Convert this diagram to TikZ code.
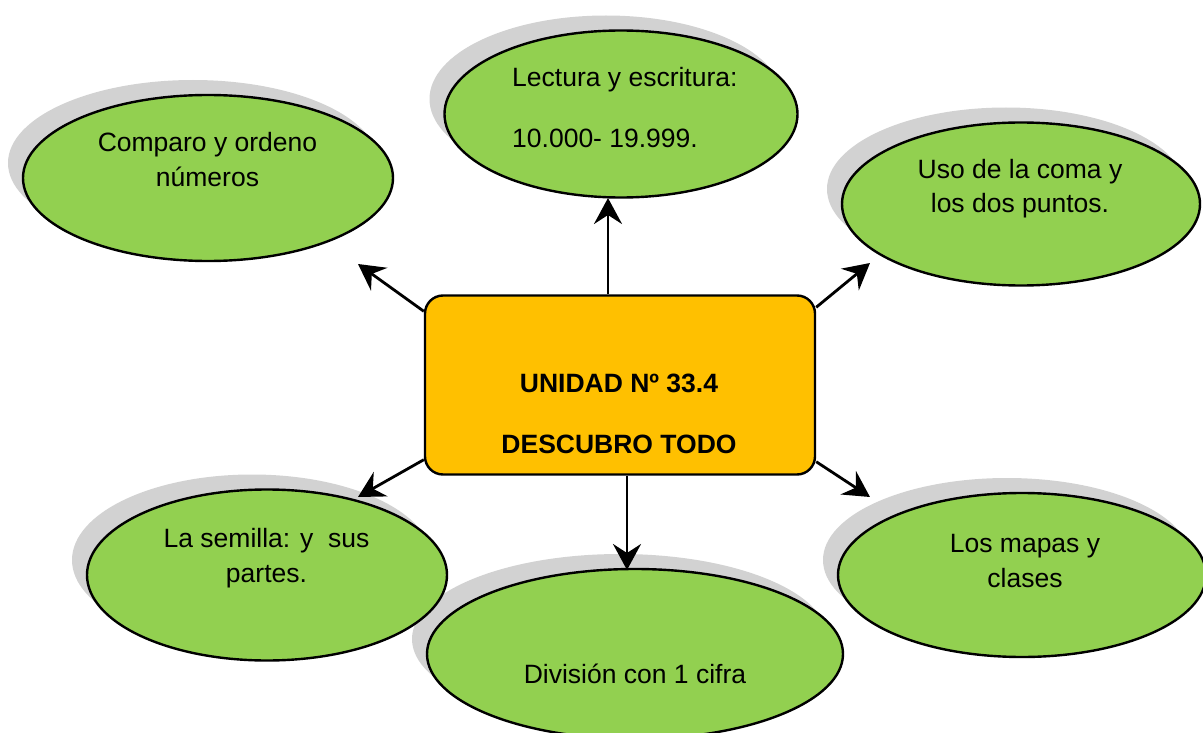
\documentclass[tikz,border=0pt]{standalone}
\usepackage{fontspec}
\setmainfont{Liberation Sans}
\usetikzlibrary{shapes.geometric,shadows,arrows.meta}
\definecolor{verde}{HTML}{92D050}
\definecolor{naranja}{HTML}{FFC000}
\begin{document}
\begin{tikzpicture}[x=1pt,y=-1pt]
            \tikzset{
                burbuja/.style={ellipse,draw,line width=2.4pt,fill=verde,inner sep=0pt,
                    drop shadow={shadow xshift=-15pt,shadow yshift=15pt,fill=gray!35,opacity=1}},
                texto/.style={anchor=base,align=center,inner sep=0pt,font=\fontsize{26.5}{35}\selectfont},
                flecha/.style={line width=2.8pt,-{Stealth[length=26pt,width=28pt,inset=9pt]}},}
            \useasboundingbox (0,0) rectangle (1203,733);
            \node[burbuja,minimum width=370pt,minimum height=166pt] (comparo) at (208,178) {};
            \node[burbuja,minimum width=353pt,minimum height=167pt] (lectura) at (621,114) {};
            \node[burbuja,minimum width=358pt,minimum height=163pt] (uso) at (1021,204) {};
            \node[burbuja,minimum width=416pt,minimum height=170pt] (division) at (635,654) {};
            \node[burbuja,minimum width=360pt,minimum height=171pt] (semilla) at (267,575) {};
            \node[burbuja,minimum width=368pt,minimum height=164pt] (mapas) at (1022,575) {};
            \node[draw,line width=2.4pt,fill=naranja,rounded corners=18pt,
                minimum width=390pt,minimum height=179pt] (caja) at (620,385) {};
            % textos (anclados en la linea base de la ultima linea)
            \node[texto] (tComparo) at (207.5,186) {Comparo y ordeno\\números};
            \node[texto,align=left,anchor=base west] (tLectura) at (512,148) {Lectura y escritura:\\[26pt]10.000- 19.999.};
            \node[texto] (tUso) at (1020,213) {Uso de la coma y\\los dos puntos.};
            \node[texto] (tSemilla) at (266.5,582) {La semilla: y\ \ sus\\partes.};
            \node[texto] (tDivision) at (635,683) {División con 1 cifra};
            \node[texto] (tMapas) at (1025,587) {Los mapas y\\clases};
            \node[texto,font=\fontsize{26.5}{35}\selectfont\bfseries] (tCaja) at (619,453) {UNIDAD Nº 33.4\\[26pt]DESCUBRO TODO};
            % flechas
            \coordinate (fArriba) at (608,198);
            \coordinate (fAbajo) at (627,570);
            \coordinate (fIzqArriba) at (358,264);
            \coordinate (fDerArriba) at (870,263);
            \coordinate (fIzqAbajo) at (358,497);
            \coordinate (fDerAbajo) at (870,497);
            \draw[flecha] ([xshift=-12pt]caja.north) -- (fArriba);
            \draw[flecha] ([xshift=7pt]caja.south) -- (fAbajo);
            \draw[flecha] ([yshift=-17pt]caja.north west) -- (fIzqArriba);
            \draw[flecha] ([yshift=-13pt]caja.north east) -- (fDerArriba);
            \draw[flecha] ([yshift=16pt]caja.south west) -- (fIzqAbajo);
            \draw[flecha] ([yshift=14pt]caja.south east) -- (fDerAbajo);
\end{tikzpicture}
\end{document}
